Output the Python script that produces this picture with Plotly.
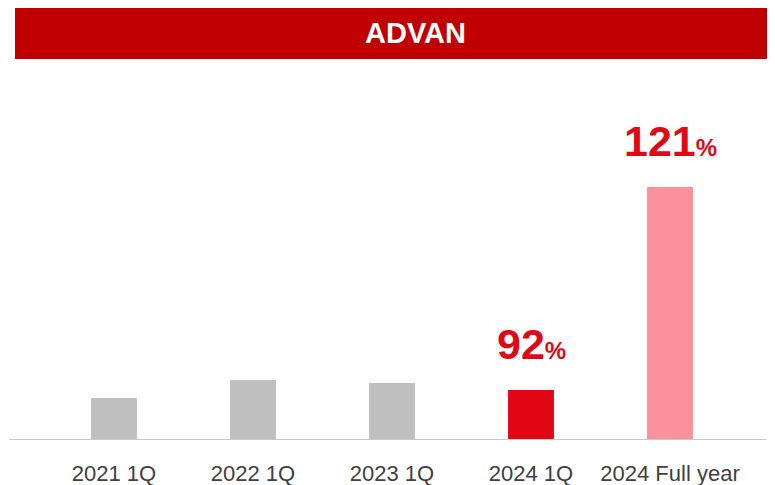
import plotly.graph_objects as go

categories = ["2021 1Q", "2022 1Q", "2023 1Q", "2024 1Q", "2024 Full year"]
bar_values = [42, 60, 57, 50, 253]
pct_labels = [None, None, None, "92", "121"]
bar_colors = ["#BFBFBF", "#BFBFBF", "#BFBFBF", "#E00616", "#FB929B"]

# the page body has an 8px margin, so the figure starts at (8, 8)
W, H = 767, 477
BASE_Y = 432  # baseline, figure pixels from top
PLOT_H = 380

fig = go.Figure(
    go.Bar(
        x=list(range(len(categories))),
        y=bar_values,
        marker_color=bar_colors,
        marker_line_width=0,
        width=0.33,
        hoverinfo="skip",
    )
)

for i, lab in enumerate(pct_labels):
    if lab is None:
        continue
    fig.add_annotation(
        x=i,
        y=bar_values[i],
        yanchor="bottom",
        yshift=20,
        showarrow=False,
        text=f"<b>{lab}</b><b><span style='font-size:24px'>%</span></b>",
        font=dict(family="Liberation Sans, Arial", size=43, color="#E00817"),
    )

# title banner
fig.add_shape(
    type="rect", xref="paper", yref="paper",
    x0=7 / W, x1=1.0, y0=(BASE_Y - 51) / PLOT_H, y1=1.2,
    fillcolor="#C00000", line_width=0, layer="below",
)
fig.add_annotation(
    xref="paper", yref="paper", x=407 / W, y=(BASE_Y - 25) / PLOT_H,
    xanchor="center", yanchor="middle",
    text="<b>ADVAN</b>", showarrow=False,
    font=dict(family="Liberation Sans, Arial", size=29, color="white"),
)

# baseline
fig.add_shape(
    type="line", xref="paper", yref="y",
    x0=1 / W, x1=758 / W, y0=0, y1=0,
    line=dict(color="#C8C8C8", width=2),
)

r0 = -106 / 139
fig.update_xaxes(
    range=[r0, r0 + W / 139],
    tickmode="array",
    tickvals=list(range(len(categories))),
    ticktext=categories,
    ticks="outside",
    ticklen=14,
    tickcolor="rgba(0,0,0,0)",
    tickfont=dict(family="Liberation Sans, Arial", size=22, color="#404040"),
    showgrid=False,
    zeroline=False,
    showline=False,
    automargin=False,
    fixedrange=True,
)
fig.update_yaxes(
    range=[0, PLOT_H],
    visible=False,
    showgrid=False,
    zeroline=False,
    automargin=False,
    fixedrange=True,
)
fig.update_layout(
    width=W,
    height=H,
    margin=dict(l=0, r=0, t=BASE_Y - PLOT_H, b=H - BASE_Y),
    paper_bgcolor="white",
    plot_bgcolor="white",
    showlegend=False,
)

fig.write_html("out.html", config={"displayModeBar": False})
